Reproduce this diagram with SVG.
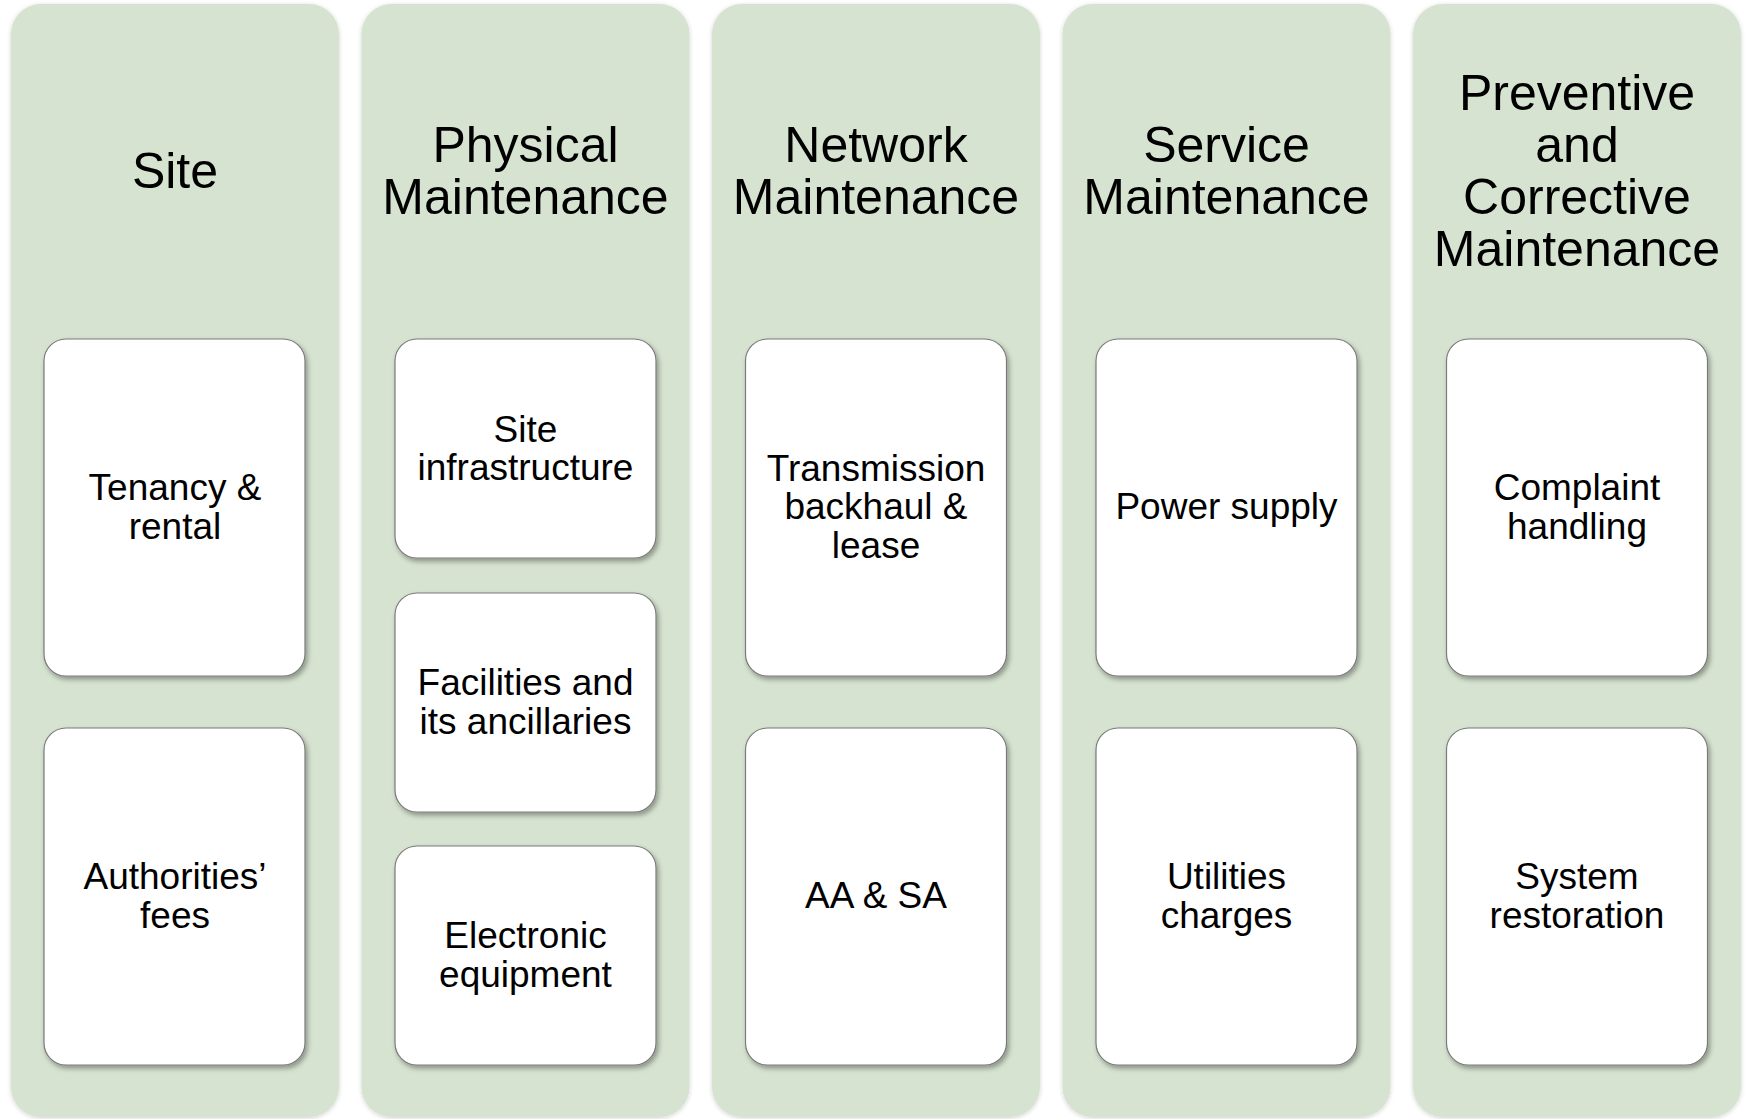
<svg xmlns="http://www.w3.org/2000/svg" width="1746" height="1119" viewBox="0 0 1746 1119">
<defs>
<filter id="colShadow" x="-5%" y="-5%" width="110%" height="110%">
<feDropShadow dx="0" dy="1" stdDeviation="2" flood-color="#000" flood-opacity="0.18"/>
</filter>
<filter id="cardShadow" x="-10%" y="-10%" width="120%" height="120%">
<feDropShadow dx="2" dy="3" stdDeviation="2.5" flood-color="#000" flood-opacity="0.35"/>
</filter>
</defs>
<style>
.col{fill:#D6E3D0;filter:url(#colShadow)}
.card{fill:#FFFFFF;stroke:#7A7A7A;stroke-width:1.2;filter:url(#cardShadow)}
.hd{font-family:"Liberation Sans",Arial,sans-serif;font-size:50px;fill:#000;text-anchor:middle}
.tx{font-family:"Liberation Sans",Arial,sans-serif;font-size:37px;fill:#000;text-anchor:middle}
</style>
<rect width="1746" height="1119" fill="#FFFFFF"/>

<g id="col-site">
<rect class="col" x="11" y="4" width="328" height="1113" rx="30"/>
<text class="hd" x="175" y="188">Site</text>
</g>
<g id="col-physical">
<rect class="col" x="361.5" y="4" width="328" height="1113" rx="30"/>
<text class="hd" x="525.5" y="162">Physical</text>
<text class="hd" x="525.5" y="214">Maintenance</text>
</g>
<g id="col-network">
<rect class="col" x="712" y="4" width="328" height="1113" rx="30"/>
<text class="hd" x="876" y="162">Network</text>
<text class="hd" x="876" y="214">Maintenance</text>
</g>
<g id="col-service">
<rect class="col" x="1062.5" y="4" width="328" height="1113" rx="30"/>
<text class="hd" x="1226.5" y="162">Service</text>
<text class="hd" x="1226.5" y="214">Maintenance</text>
</g>
<g id="col-preventive">
<rect class="col" x="1413" y="4" width="328" height="1113" rx="30"/>
<text class="hd" x="1577" y="110">Preventive</text>
<text class="hd" x="1577" y="162">and</text>
<text class="hd" x="1577" y="214">Corrective</text>
<text class="hd" x="1577" y="266">Maintenance</text>
</g>

<g id="card-tenancy">
<rect class="card" x="44" y="339" width="261" height="337" rx="22"/>
<text class="tx" x="175" y="500">Tenancy &amp;</text>
<text class="tx" x="175" y="539">rental</text>
</g>
<g id="card-authorities">
<rect class="card" x="44" y="728" width="261" height="337" rx="22"/>
<text class="tx" x="175" y="889">Authorities’</text>
<text class="tx" x="175" y="928">fees</text>
</g>

<g id="card-site-infra">
<rect class="card" x="395" y="339" width="261" height="219" rx="22"/>
<text class="tx" x="525.5" y="442">Site</text>
<text class="tx" x="525.5" y="480">infrastructure</text>
</g>
<g id="card-facilities">
<rect class="card" x="395" y="593" width="261" height="219" rx="22"/>
<text class="tx" x="525.5" y="695">Facilities and</text>
<text class="tx" x="525.5" y="734">its ancillaries</text>
</g>
<g id="card-electronic">
<rect class="card" x="395" y="846" width="261" height="219" rx="22"/>
<text class="tx" x="525.5" y="948">Electronic</text>
<text class="tx" x="525.5" y="987">equipment</text>
</g>

<g id="card-transmission">
<rect class="card" x="745.5" y="339" width="261" height="337" rx="22"/>
<text class="tx" x="876" y="481">Transmission</text>
<text class="tx" x="876" y="519">backhaul &amp;</text>
<text class="tx" x="876" y="558">lease</text>
</g>
<g id="card-aasa">
<rect class="card" x="745.5" y="728" width="261" height="337" rx="22"/>
<text class="tx" x="876" y="908">AA &amp; SA</text>
</g>

<g id="card-power">
<rect class="card" x="1096" y="339" width="261" height="337" rx="22"/>
<text class="tx" x="1226.5" y="519">Power supply</text>
</g>
<g id="card-utilities">
<rect class="card" x="1096" y="728" width="261" height="337" rx="22"/>
<text class="tx" x="1226.5" y="889">Utilities</text>
<text class="tx" x="1226.5" y="928">charges</text>
</g>

<g id="card-complaint">
<rect class="card" x="1446.5" y="339" width="261" height="337" rx="22"/>
<text class="tx" x="1577" y="500">Complaint</text>
<text class="tx" x="1577" y="539">handling</text>
</g>
<g id="card-restoration">
<rect class="card" x="1446.5" y="728" width="261" height="337" rx="22"/>
<text class="tx" x="1577" y="889">System</text>
<text class="tx" x="1577" y="928">restoration</text>
</g>

<g id="connectors"></g>
</svg>
